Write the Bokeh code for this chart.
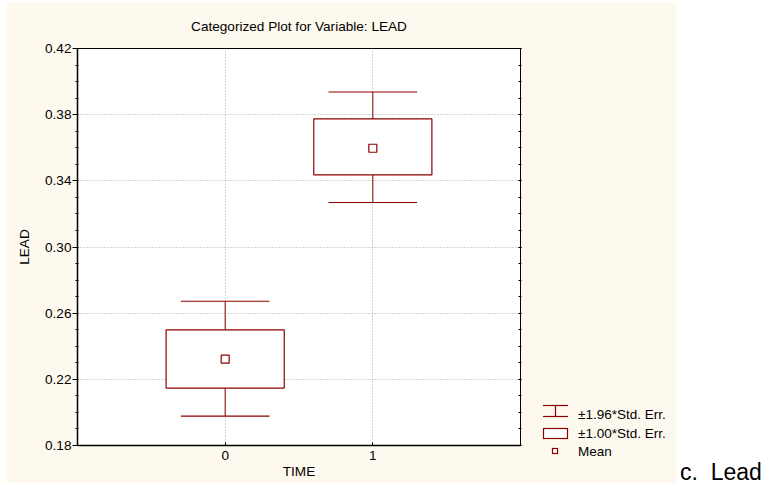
from bokeh.plotting import figure
from bokeh.models import (ColumnDataSource, Range1d, LinearAxis, FixedTicker, Div,
                          NumeralTickFormatter, CustomJSTickFormatter)
from bokeh.layouts import row
from bokeh.transform import dodge
from bokeh.embed import file_html
from bokeh.resources import INLINE

# ---- data ----
time_labels = ["0", "1"]
time_pos = [0, 1]
lead_mean = [0.2322, 0.3597]
se1_low = [0.2147, 0.3436]
se1_high = [0.2499, 0.3774]
se196_low = [0.1978, 0.3269]
se196_high = [0.2672, 0.3937]
y_ticks = [0.18, 0.22, 0.26, 0.30, 0.34, 0.38, 0.42]
x_ticks = [0, 1]
legend_labels = ["\u00b11.96*Std. Err.", "\u00b11.00*Std. Err.", "Mean"]
caption_text = "c.\u00a0\u00a0Lead"

DARK = "#8B0000"
CREAM = "#FEF9EE"
FONT = "Liberation Sans"
FS = "13.6px"

src = ColumnDataSource(dict(time=time_pos, mean=lead_mean, lo1=se1_low, hi1=se1_high,
                            lo196=se196_low, hi196=se196_high))
caps = ColumnDataSource(dict(time=time_pos + time_pos, y=se196_low + se196_high))

p = figure(width=519, height=481, x_range=Range1d(-1, 2), y_range=Range1d(0.18, 0.42),
           output_backend="svg", toolbar_location=None, margin=(2, 0, 0, 6),
           min_border_left=71, min_border_right=5, min_border_top=46, min_border_bottom=38,
           background_fill_color="white", border_fill_color=CREAM,
           outline_line_color="black", outline_line_width=1)

p.title.text = "Categorized Plot for Variable: LEAD"
p.title.align = "center"
p.title.standoff = 29
p.title.text_font = FONT
p.title.text_font_size = FS
p.title.text_font_style = "normal"
p.title.text_color = "black"

# axes
xa = p.xaxis[0]
xa.ticker = FixedTicker(ticks=x_ticks)
xa.major_label_overrides = {t: l for t, l in zip(x_ticks, time_labels)}
xa.major_tick_in = 3
xa.major_tick_out = 0
xa.minor_tick_line_color = None
xa.major_label_standoff = 5
xa.axis_line_color = "black"
xa.axis_line_width = 1.5
xa.axis_label = "TIME"
xa.axis_label_standoff = 1

ya = p.yaxis[0]
minor = [round(0.18 + 0.01 * i, 2) for i in range(25)]
ya.ticker = FixedTicker(ticks=y_ticks, minor_ticks=minor)
ya.formatter = NumeralTickFormatter(format="0.00")
ya.major_tick_out = 5
ya.major_tick_in = 0
ya.minor_tick_out = 2
ya.minor_tick_in = 1
ya.major_label_standoff = 1
ya.axis_line_color = "black"
ya.axis_line_width = 1.5
ya.axis_label = "LEAD"
ya.axis_label_standoff = 10
ya.minor_tick_line_color = "black"

for ax in (xa, ya):
    ax.major_label_text_font = FONT
    ax.major_label_text_font_size = FS
    ax.major_label_text_color = "black"
    ax.major_tick_line_color = "black"
    ax.axis_label_text_font = FONT
    ax.axis_label_text_font_size = FS
    ax.axis_label_text_font_style = "normal"
    ax.axis_label_text_color = "black"

ra = LinearAxis(ticker=FixedTicker(ticks=y_ticks, minor_ticks=minor),
                formatter=CustomJSTickFormatter(code="return ''"))
ra.major_tick_in = 2
ra.major_tick_out = 1
ra.minor_tick_in = 2
ra.minor_tick_out = 1
ra.major_label_standoff = 0
ra.axis_line_color = "black"
p.add_layout(ra, "right")

p.xgrid.grid_line_color = "#aaaaaa"
p.xgrid.grid_line_dash = "1 2"
p.ygrid.grid_line_color = "#aaaaaa"
p.ygrid.grid_line_dash = "1 2"

# glyphs
stems = p.segment(x0="time", y0="lo196", x1="time", y1="hi196", source=src,
                  line_color=DARK, line_width=1)
cap_r = p.segment(x0=dodge("time", -0.3), y0="y", x1=dodge("time", 0.3), y1="y",
                  source=caps, line_color=DARK, line_width=1.2)
box_r = p.vbar(x="time", width=0.8, bottom="lo1", top="hi1", source=src,
               fill_color="white", line_color=DARK, line_width=1.2)
mean_r = p.scatter(x="time", y="mean", source=src, marker="square", size=8,
                   fill_color="white", line_color=DARK, line_width=1.2)

# legend panel (keys + labels), cream area right of the plot
legend_html = (
    f'<div style="position:relative;width:151px;height:481px;background:{CREAM}">'
    f'<svg width="151" height="481" style="position:absolute;left:0;top:0">'
    f'<g stroke="{DARK}" stroke-width="1.2" fill="none">'
    '<line x1="18" y1="403.5" x2="43" y2="403.5"/>'
    '<line x1="18" y1="414.5" x2="43" y2="414.5"/>'
    '<line x1="30.5" y1="403.5" x2="30.5" y2="414.5"/>'
    '<rect x="18.5" y="426.5" width="24" height="10" fill="white"/>'
    '<rect x="27.5" y="446.5" width="5" height="5" fill="white"/>'
    '</g>'
    f'<g font-family="{FONT}" font-size="13.5px" fill="black">'
    f'<text x="53" y="417">{legend_labels[0]}</text>'
    f'<text x="53" y="435.7">{legend_labels[1]}</text>'
    f'<text x="53" y="453.7">{legend_labels[2]}</text>'
    '</g></svg></div>'
)
legend_div = Div(text=legend_html, width=151, height=481, margin=(2, 0, 0, 0))

caption = Div(text=f'<div style="font-family:\'{FONT}\';font-size:23px;line-height:20px;'
                   f'padding-top:462px;padding-left:4px;white-space:nowrap;color:black">'
                   f'{caption_text}</div>', width=91, height=483, margin=(0, 0, 0, 0))

layout = row(p, legend_div, caption)
open("out.html", "w").write(file_html(layout, INLINE))
